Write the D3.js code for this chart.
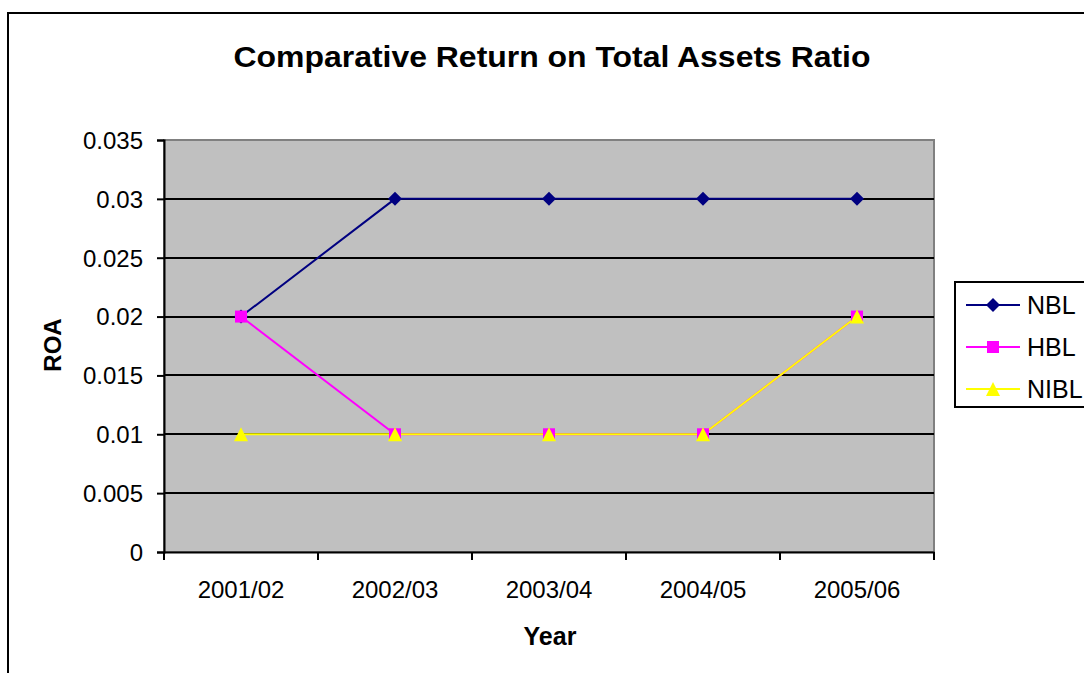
<!doctype html>
<html>
<head>
<title>Comparative Return on Total Assets Ratio</title>
<script src="https://cdnjs.cloudflare.com/ajax/libs/d3/7.8.5/d3.min.js"></script>
<style>
body { margin:0; background:#fff; }
text { font-family: "Liberation Sans", Arial, sans-serif; fill:#000; }
</style>
</head>
<body>
<div id="chartContainer"></div>
<script type="text/javascript">

var years = ["2001/02", "2002/03", "2003/04", "2004/05", "2005/06"];
var nbl  = [0.02, 0.03, 0.03, 0.03, 0.03];
var hbl  = [0.02, 0.01, 0.01, 0.01, 0.02];
var nibl = [0.01, 0.01, 0.01, 0.01, 0.02];
var yTicks = [0, 0.005, 0.01, 0.015, 0.02, 0.025, 0.03, 0.035];

var diamond  = "M0,-7L7,0L0,7L-7,0Z";
var square   = "M-6,-6H6V6H-6Z";
var triangle = "M0,-7L7,7L-7,7Z";

var seriesList = [
	{ name: "NBL",  values: nbl,  color: "#000080", shape: diamond },
	{ name: "HBL",  values: hbl,  color: "#FF00FF", shape: square },
	{ name: "NIBL", values: nibl, color: "#FFFF00", shape: triangle }
];

var svgWidth = 1084, svgHeight = 673;
var plot = {left: 164, top: 140, right: 934, bottom: 552};

var svg = d3.select("#chartContainer").append("svg")
	.attr("width", svgWidth)
	.attr("height", svgHeight);

// outer chart border
svg.append("rect")
	.attr("x", 8).attr("y", 13)
	.attr("width", 1100).attr("height", 700)
	.attr("fill", "white")
	.attr("stroke", "black")
	.attr("stroke-width", 2);

var x = d3.scaleBand().domain(years).range([plot.left, plot.right]);
var y = d3.scaleLinear().domain([0, 0.035]).range([plot.bottom, plot.top]);

svg.append("rect")
	.attr("x", plot.left).attr("y", plot.top)
	.attr("width", plot.right - plot.left)
	.attr("height", plot.bottom - plot.top)
	.attr("fill", "#C0C0C0")
	.attr("stroke", "#808080")
	.attr("stroke-width", 2);

// gridlines
svg.append("g").selectAll("line")
	.data(yTicks.filter(function(d){ return d > 0 && d < 0.035; }))
	.enter().append("line")
	.attr("x1", plot.left).attr("x2", plot.right)
	.attr("y1", function(d){ return Math.round(y(d)); })
	.attr("y2", function(d){ return Math.round(y(d)); })
	.attr("stroke", "black")
	.attr("stroke-width", 2);

// y axis
var yAxis = svg.append("g")
	.attr("transform", "translate(" + plot.left + ",0)")
	.call(d3.axisLeft(y).tickValues(yTicks).tickSize(7).tickPadding(14)
		.tickFormat(function(d){ return d === 0 ? "0" : d3.format("")(+d.toFixed(3)); }));
yAxis.select(".domain").attr("stroke", "black").attr("stroke-width", 2);
yAxis.selectAll(".tick line").attr("stroke", "black").attr("stroke-width", 2);
yAxis.selectAll("text").style("font-size", "24px").attr("dy", "0.35em");

// x axis
var xAxis = svg.append("g")
	.attr("transform", "translate(0," + plot.bottom + ")")
	.call(d3.axisBottom(x).tickSize(0));
xAxis.select(".domain").attr("stroke", "black").attr("stroke-width", 2);
xAxis.selectAll("text").style("font-size", "24px").attr("y", 46).attr("dy", null);
xAxis.append("g").selectAll("line")
	.data(years.map(function(d){ return x(d); }).concat([plot.right]))
	.enter().append("line")
	.attr("x1", function(d){ return d; }).attr("x2", function(d){ return d; })
	.attr("y1", 0).attr("y2", 8)
	.attr("stroke", "black").attr("stroke-width", 2);

// lines and markers
var cx = function(i){ return x(years[i]) + x.bandwidth() / 2; };
seriesList.forEach(function(s) {
	var line = d3.line()
		.x(function(d, i){ return cx(i); })
		.y(function(d){ return y(d); });
	svg.append("path")
		.datum(s.values)
		.attr("d", line)
		.attr("fill", "none")
		.attr("stroke", s.color)
		.attr("stroke-width", 2);
});
seriesList.forEach(function(s) {
	svg.append("g").selectAll("path")
		.data(s.values)
		.enter().append("path")
		.attr("d", s.shape)
		.attr("transform", function(d, i){ return "translate(" + cx(i) + "," + y(d) + ")"; })
		.attr("fill", s.color);
});

// title
svg.append("text")
	.attr("x", 552).attr("y", 67)
	.attr("text-anchor", "middle")
	.attr("textLength", 637).attr("lengthAdjust", "spacingAndGlyphs")
	.style("font-size", "29px").style("font-weight", "bold")
	.text("Comparative Return on Total Assets Ratio");

svg.append("text")
	.attr("transform", "translate(61,345) rotate(-90)")
	.attr("text-anchor", "middle")
	.style("font-size", "24px").style("font-weight", "bold")
	.text("ROA");

svg.append("text")
	.attr("x", 550).attr("y", 645)
	.attr("text-anchor", "middle")
	.style("font-size", "25px").style("font-weight", "bold")
	.text("Year");

// legend
var legend = svg.append("g").attr("transform", "translate(955,282)");
legend.append("rect")
	.attr("width", 140).attr("height", 125)
	.attr("fill", "white").attr("stroke", "black").attr("stroke-width", 2);
seriesList.forEach(function(s, i) {
	var ly = 23 + i * 42;
	legend.append("line")
		.attr("x1", 11).attr("x2", 65).attr("y1", ly).attr("y2", ly)
		.attr("stroke", s.color).attr("stroke-width", 2);
	legend.append("path")
		.attr("d", s.shape)
		.attr("transform", "translate(38," + ly + ")")
		.attr("fill", s.color);
	legend.append("text")
		.attr("x", 72).attr("y", ly).attr("dy", "0.35em")
		.style("font-size", "25px")
		.text(s.name);
});

</script>
</body>
</html>
